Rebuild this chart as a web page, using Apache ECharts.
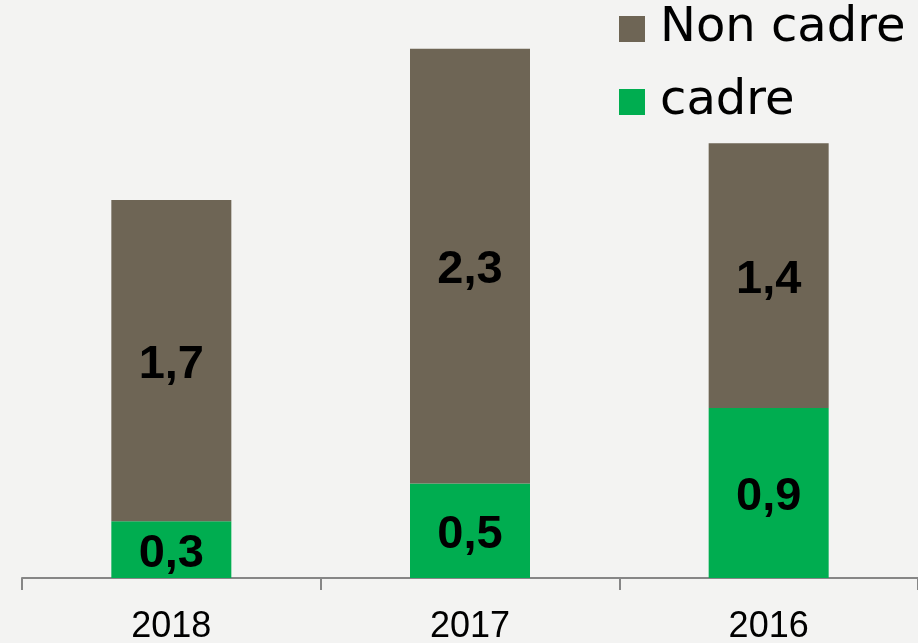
<!DOCTYPE html>
<html>
<head>
<meta charset="utf-8">
<script src="https://cdn.jsdelivr.net/npm/echarts@6/dist/echarts.min.js"></script>
<style>
  html, body { margin: 0; padding: 0; background: #f3f3f2; }
  #chart { width: 918px; height: 643px; }
</style>
</head>
<body>
<div id="chart"></div>
<script>
const years = ['2018', '2017', '2016']
const cadre = [0.3, 0.5, 0.9]
const nonCadre = [1.7, 2.3, 1.4]

const chart = echarts.init(document.getElementById('chart'))
const labelStyle = {
  show: true,
  position: 'inside',
  offset: [0, 4],
  fontFamily: 'Liberation Sans',
  fontWeight: 'bold',
  fontSize: 47,
  color: '#000',
  formatter: p => String(p.value).replace('.', ',')
}
chart.setOption({
  backgroundColor: '#f3f3f2',
  animation: false,
  grid: {
    left: 22,
    right: 0,
    top: 11,
    bottom: 65,
    outerBoundsMode: 'none'
  },
  legend: {
    orient: 'vertical',
    left: 614,
    top: 0,
    itemWidth: 26,
    itemHeight: 26,
    itemGap: 25,
    icon: 'rect',
    data: ['Non cadre', 'cadre'],
    textStyle: {
      fontFamily: 'DejaVu Sans',
      fontSize: 48,
      color: '#000',
      padding: [0, 0, 0, 10]
    }
  },
  xAxis: {
    type: 'category',
    data: years,
    axisLine: { lineStyle: { color: '#868686', width: 2 } },
    axisTick: { show: true, length: 12, lineStyle: { color: '#868686', width: 2 } },
    axisLabel: {
      fontFamily: 'Liberation Sans',
      fontSize: 36,
      color: '#000',
      margin: 31
    }
  },
  yAxis: {
    type: 'value',
    min: 0,
    max: 3,
    show: false,
    splitLine: { show: false }
  },
  series: [{
    name: 'cadre',
    type: 'bar',
    stack: 'total',
    data: cadre,
    barWidth: 120,
    itemStyle: { color: '#00ad50' },
    label: labelStyle
  }, {
    name: 'Non cadre',
    type: 'bar',
    stack: 'total',
    data: nonCadre,
    barWidth: 120,
    itemStyle: { color: '#6e6555' },
    label: labelStyle
  }]
})
</script>
</body>
</html>
